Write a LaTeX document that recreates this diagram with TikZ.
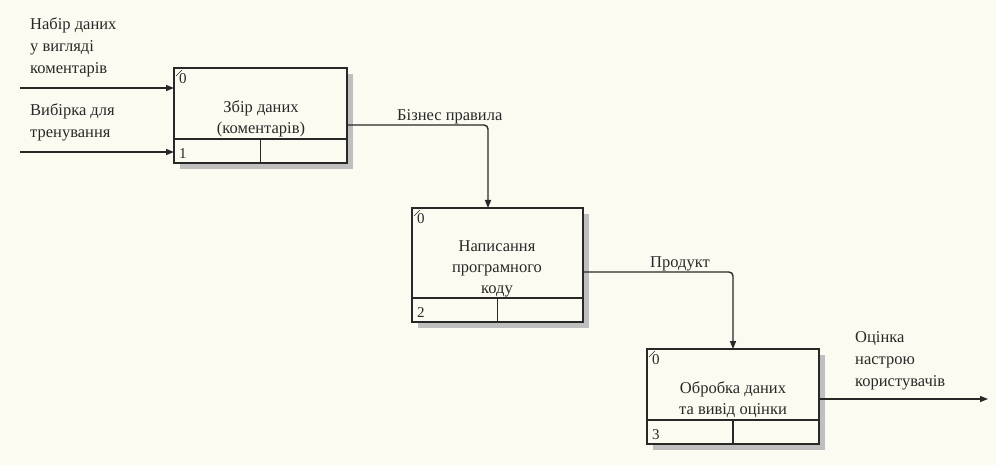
\documentclass[tikz,border=0pt]{standalone}
\usepackage{fontspec}
\setmainfont{Liberation Serif}
\usetikzlibrary{arrows.meta,calc}
\definecolor{bg}{RGB}{252,251,241}
\definecolor{ink}{RGB}{40,40,40}
\tikzset{
  box/.style={draw=ink,line width=1.5pt,rectangle,inner sep=0pt,outer sep=0pt,anchor=north west},
  txt/.style={font=\fontsize{16.5}{21}\selectfont,align=center,inner sep=0pt,text=ink},
  lbl/.style={font=\fontsize{16.5}{22}\selectfont,align=left,inner sep=0pt,anchor=north west,text=ink},
  num/.style={font=\fontsize{15}{15}\selectfont,inner sep=0pt,text=ink},
  arr/.style={draw=ink,line width=1.4pt,-{Triangle[length=8pt,width=6pt]}},
  shd/.style={fill=gray!50,draw=none}
}
\newcommand{\idefbox}[5]{% name, x, y, w, h
  \fill[shd] (#2+#4,#3+6) rectangle (#2+#4+6,#3+#5+6);
  \fill[shd] (#2+6,#3+#5) rectangle (#2+#4+6,#3+#5+6);
  \node[box,minimum width=#4pt,minimum height=#5pt] (#1) at (#2,#3) {};
  \draw[ink,line width=1.1pt] ($(#1.south west)+(0,24pt)$) -- ($(#1.south east)+(0,24pt)$);
  \draw[ink,line width=1.1pt] ($(#1.south)+(0,24pt)$) -- (#1.south);
  \draw[ink,line width=0.6pt] ($(#1.north west)+(2pt,-8pt)$) -- ($(#1.north west)+(8pt,-2pt)$);
  \node[num,anchor=north west] (#1z) at ($(#1.north west)+(5pt,-5pt)$) {0};
}
\begin{document}
\begin{tikzpicture}[x=1pt,y=-1pt]
\fill[bg] (0,0) rectangle (996,465);
\useasboundingbox (0,0) rectangle (996,465);

\idefbox{b1}{174}{68}{173}{95}
\idefbox{b2}{412}{208}{171}{114}
\idefbox{b3}{647}{349}{172}{95}

\node[num,anchor=south west] (n1) at ($(b1.south west)+(5pt,4pt)$) {1};
\node[num,anchor=south west] (n2) at ($(b2.south west)+(5pt,4pt)$) {2};
\node[num,anchor=south west] (n3) at ($(b3.south west)+(5pt,4pt)$) {3};

\node[txt] (t1) at (261,119) {Збір даних\\(коментарів)};
\node[txt] (t2) at (497,269) {Написання\\програмного\\коду};
\node[txt] (t3) at (733,400) {Обробка даних\\та вивід оцінки};

\coordinate (i1) at (20,88);
\coordinate (i2) at (20,152);
\draw[arr] (i1) -- (i1 -| b1.west);
\draw[arr] (i2) -- (i2 -| b1.west);

\coordinate (c1) at (488,125);
\draw[arr,rounded corners=4pt] (c1 -| b1.east) -- (c1) -- (c1 |- b2.north);
\coordinate (c2) at (733,272);
\draw[arr,rounded corners=4pt] (c2 -| b2.east) -- (c2) -- (c2 |- b3.north);
\coordinate (o1) at (988,399);
\draw[arr] (o1 -| b3.east) -- (o1);

\node[lbl] (l1) at (30,17) {Набір даних\\у вигляді\\коментарів};
\node[lbl] (l2) at (30,103) {Вибірка для\\тренування};
\node[lbl,anchor=south west] (l3) at (397,124) {Бізнес правила};
\node[lbl,anchor=south west] (l4) at (650,271) {Продукт};
\node[lbl] (l5) at (855,331) {Оцінка\\настрою\\користувачів};
\end{tikzpicture}
\end{document}
